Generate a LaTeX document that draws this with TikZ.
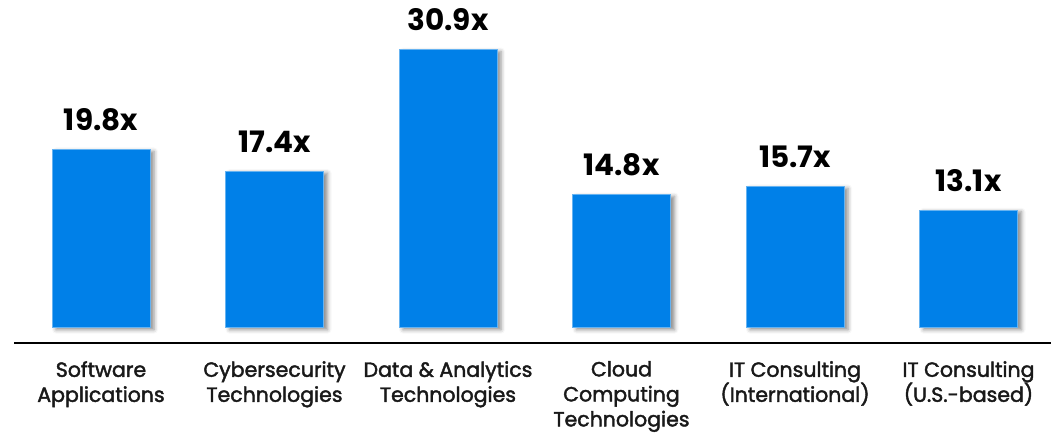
\documentclass[tikz,border=0pt]{standalone}
\usepackage{fontspec}
\setmainfont{Poppins}
\newfontfamily\catfont[FakeBold=2]{Poppins}
\usepackage{tikz}
\usetikzlibrary{positioning,shadows.blur}
\definecolor{barblue}{RGB}{0,128,232}
\tikzset{bar/.style={fill=barblue, draw=barblue!60!white, line width=0.6pt, minimum width=98pt, inner sep=0pt, anchor=south,
    blur shadow={shadow xshift=4pt, shadow yshift=-2pt, shadow blur radius=4pt, shadow opacity=45}},
  vallabel/.style={inner sep=0pt, font=\fontsize{29.5}{30}\selectfont\bfseries},
  catlabel/.style={inner sep=0pt, anchor=north, align=center, text=black!90, font=\fontsize{20.5}{25}\selectfont\catfont}}

\begin{document}
\begin{tikzpicture}[x=1pt, y=1pt]
      \useasboundingbox (0,0) rectangle (1051,432);
      % bars, values and categories
      \foreach \v/\name [count=\i] in {19.8/{Software\\Applications}, 17.4/{Cybersecurity\\Technologies}, 30.9/{Data \& Analytics\\Technologies}, 14.8/{Cloud\\Computing\\Technologies}, 15.7/{IT Consulting\\(International)}, 13.1/{IT Consulting\\(U.S.-based)}} {
        \pgfmathsetmacro{\cx}{101+173.5*(\i-1)}
        \node [bar, minimum height={9*\v}] (b\i) at (\cx,104) {};
        \node [vallabel, above=18pt of b\i] (v\i) {\v x};
        \node [catlabel] (c\i) at (\cx,71) {\name};
      }
      \coordinate (axl) at (14,89);
      \coordinate (axr) at (1051,89);
      \draw [line width=2pt] (axl) -- (axr);
    \end{tikzpicture}
\end{document}
